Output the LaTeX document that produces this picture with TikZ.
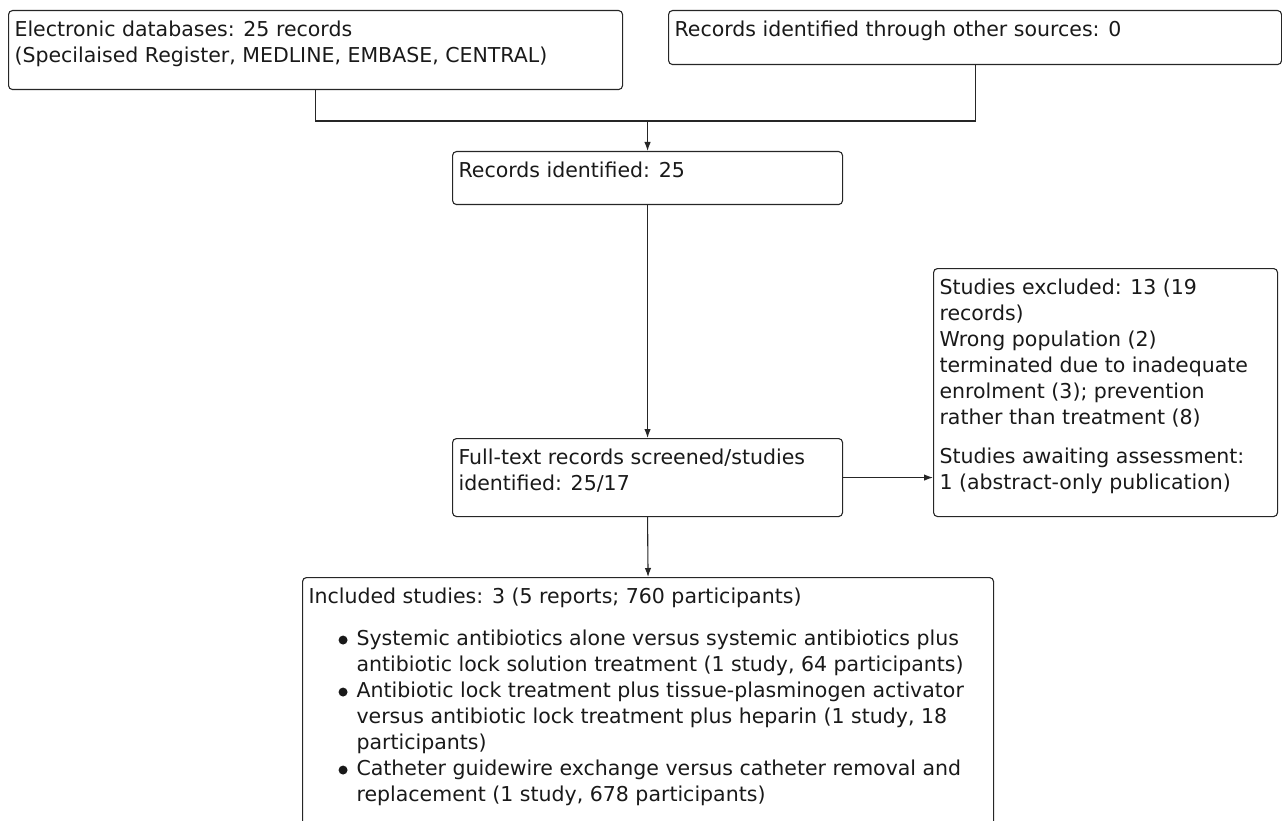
\documentclass[tikz,border=0pt]{standalone}
\usepackage{fontspec}
\setmainfont{DejaVu Sans}
\usepackage{tikz}
\usetikzlibrary{shapes,arrows.meta}
\tikzstyle{record} = [rectangle, draw=black!85, line width=1.1pt,
    rounded corners=4pt, anchor=north west, inner xsep=6pt, inner ysep=0pt,
    text=black!90]
\tikzstyle{line} = [draw=black!85, line width=1.1pt, -{Latex[length=9pt,width=6.5pt]}]
% text set at the top of a fixed size box
\newcommand{\rectext}[3]{\parbox[t][#2][t]{#1}{\rule{0pt}{26pt}#3}}
\newcommand{\itemdot}{\tikz[baseline=-5.5pt]\fill[black!90] (0,0) circle (4.5pt);}
\newcommand{\firstline}{\hspace*{30pt}\makebox[18pt][l]{\itemdot}}
\newcommand{\nextline}{\hspace*{48pt}}

\begin{document}
\begin{tikzpicture}[x=1pt, y=-1pt, font=\fontsize{20.5}{26}\selectfont]
    \useasboundingbox (0,0) rectangle (1282,821);
    \clip (0,0) rectangle (1282,821);
    % Place nodes
    \node [record] (dbrec) at (8,10) {\rectext{602pt}{79pt}{Electronic databases: 25 records\\
        (Specilaised Register, MEDLINE, EMBASE, CENTRAL)}};
    \node [record] (othrec) at (668,10) {\rectext{601pt}{54pt}{Records identified through other sources: 0}};
    \node [record] (ident) at (452,151) {\rectext{378pt}{53pt}{Records identified: 25}};
    \node [record] (screen) at (452,438) {\rectext{378pt}{78pt}{Full-text records screened/studies\\
        identified: 25/17}};
    \node [record] (excl) at (933,268) {\rectext{332pt}{248pt}{Studies excluded: 13 (19\\
        records)\\
        Wrong population (2)\\
        terminated due to inadequate\\
        enrolment (3); prevention\\
        rather than treatment (8)\\[13pt]
        Studies awaiting assessment:\\
        1 (abstract-only publication)}};
    \node [record] (incl) at (302,577) {\rectext{679pt}{280pt}{Included studies: 3 (5 reports; 760 participants)\\[16pt]
        \firstline Systemic antibiotics alone versus systemic antibiotics plus\\
        \nextline antibiotic lock solution treatment (1 study, 64 participants)\\
        \firstline Antibiotic lock treatment plus tissue-plasminogen activator\\
        \nextline versus antibiotic lock treatment plus heparin (1 study, 18\\
        \nextline participants)\\
        \firstline Catheter guidewire exchange versus catheter removal and\\
        \nextline replacement (1 study, 678 participants)}};
    \coordinate (merge) at (ident.north |- 0,121);
    % Draw edges
    \draw [draw=black!85, line width=1.1pt] (dbrec.south) |- (merge) -| (othrec.south);
    \path [line] (merge) -- (ident.north);
    \path [line] (ident.south) -- (screen.north);
    \path [line] (screen.east) -- (screen.east -| excl.west);
    \path [line] (screen.south) -- (incl.north);
\end{tikzpicture}
\end{document}
